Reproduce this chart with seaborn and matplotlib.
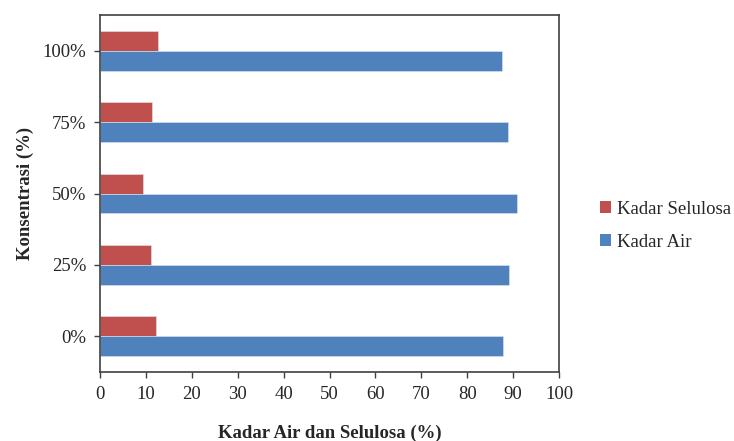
import matplotlib
matplotlib.use("Agg")
import matplotlib.pyplot as plt
import seaborn as sns
import pandas as pd
from matplotlib.patches import Patch

# Data: concentration levels and measured contents (%)
konsentrasi = ["100%", "75%", "50%", "25%", "0%"]
kadar_selulosa = [12.6, 11.3, 9.3, 11.1, 12.3]
kadar_air = [87.5, 88.9, 90.9, 89.0, 87.8]
series = ["Kadar Selulosa", "Kadar Air"]
colors = ["#C0504D", "#4F81BD"]
x_ticks = list(range(0, 101, 10))

df = pd.DataFrame({
    "Konsentrasi": konsentrasi * 2,
    "Nilai": kadar_selulosa + kadar_air,
    "Seri": [series[0]] * len(konsentrasi) + [series[1]] * len(konsentrasi),
})

sns.set_style("white")
plt.rcParams["font.family"] = ["Liberation Serif", "DejaVu Serif"]

fig = plt.figure(figsize=(7.34, 4.41), dpi=100)
ax = fig.add_axes([100 / 734, 1 - 372 / 441, 459 / 734, 357 / 441])

sns.barplot(
    data=df, x="Nilai", y="Konsentrasi", hue="Seri",
    order=konsentrasi, hue_order=series, palette=colors,
    orient="h", width=0.56, saturation=1, ax=ax, legend=False,
    edgecolor="#dde6f2", linewidth=0.4,
)

ax.set_xlim(0, 100)
ax.set_ylim(4.5, -0.5)
ax.set_xticks(x_ticks)
ax.set_xticklabels([str(v) for v in x_ticks], fontsize=13.5)
ax.tick_params(axis="y", labelsize=13.5)
ax.tick_params(axis="both", direction="out", length=4, width=1, color="#404040",
               left=True, bottom=True, pad=6)

for side in ["left", "bottom", "right", "top"]:
    ax.spines[side].set_visible(True)
    ax.spines[side].set_color("#404040")
    ax.spines[side].set_linewidth(1.2)

ax.set_xlabel("Kadar Air dan Selulosa (%)", fontsize=13.5, fontweight="bold", labelpad=16)
ax.set_ylabel("Konsentrasi (%)", fontsize=13.5, fontweight="bold", labelpad=6)

handles = [Patch(facecolor=c, edgecolor="none") for c in colors]
fig.legend(handles, series, loc="center left", bbox_to_anchor=(583 / 734, 1 - 226 / 441),
           frameon=False, fontsize=13.5, handlelength=0.6, handleheight=0.6,
           handletextpad=0.3, labelspacing=0.85)

fig.savefig("out.png", dpi=100)
